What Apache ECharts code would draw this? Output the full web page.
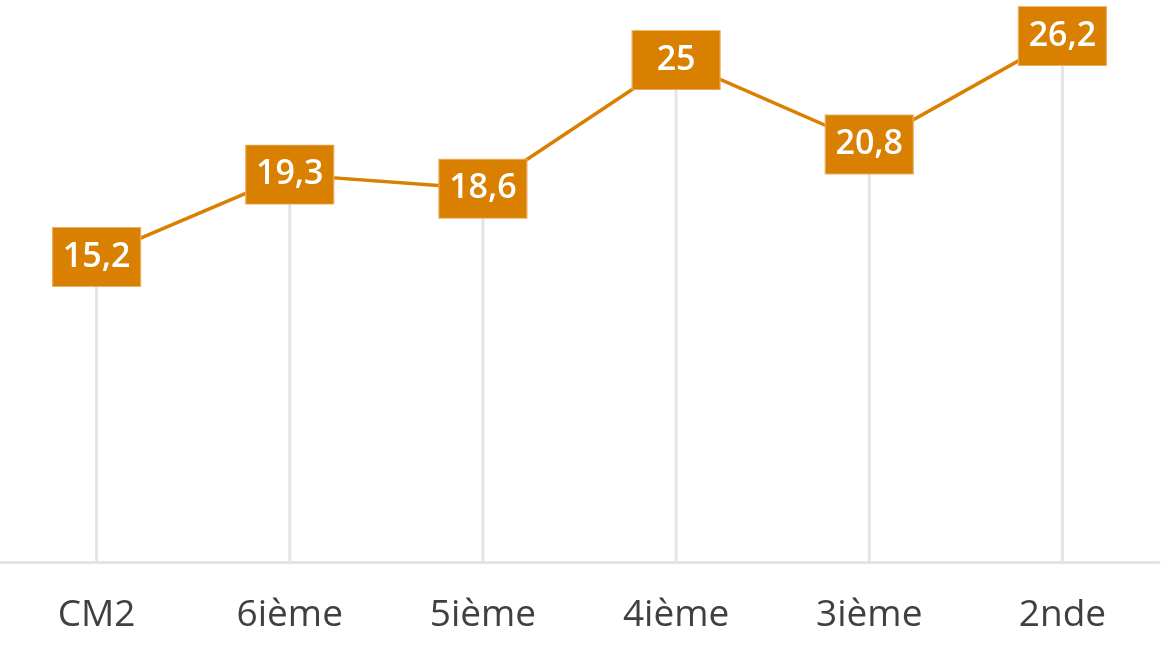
<!DOCTYPE html>
<html>
<head>
<meta charset="utf-8">
<script src="https://cdn.jsdelivr.net/npm/echarts@6/dist/echarts.min.js"></script>
<style>
  html, body { margin: 0; padding: 0; background: #ffffff; }
  #chart { width: 1170px; height: 660px; }
</style>
</head>
<body>
<div id="chart"></div>
<script>
const categories = ['CM2', '6ième', '5ième', '4ième', '3ième', '2nde']
const values = [15.2, 19.3, 18.6, 25, 20.8, 26.2]

const ORANGE = '#d98000'
const FONT = '"Open Sans", sans-serif'

const chart = echarts.init(document.getElementById('chart'), null, { renderer: 'canvas' })

chart.setOption({
    backgroundColor: '#ffffff',
    animation: false,
    grid: { left: 0, right: 11, top: 0, bottom: 98, containLabel: false },
    xAxis: {
        type: 'category',
        data: categories,
        boundaryGap: true,
        axisLine: { show: true, lineStyle: { color: '#e4e4e4', width: 3 } },
        axisTick: { show: false },
        axisLabel: {
            color: '#404040',
            fontFamily: FONT,
            fontSize: 37,
            margin: 35
        }
    },
    yAxis: {
        type: 'value',
        min: 0,
        max: 28,
        show: false,
        splitLine: { show: false }
    },
    series: [
        {
            // drop lines from each point to the axis
            name: 'drop',
            type: 'bar',
            data: values,
            barWidth: 3,
            itemStyle: { color: '#e4e4e4' },
            silent: true,
            z: 1
        },
        {
            name: 'Valeurs',
            type: 'line',
            data: values,
            symbol: 'rect',
            symbolSize: [88, 59],
            showSymbol: true,
            lineStyle: { width: 3.5, color: ORANGE },
            itemStyle: { color: ORANGE, borderColor: '#e9ad62', borderWidth: 1 },
            z: 3,
            label: {
                show: true,
                position: 'inside',
                formatter: p => String(p.value).replace('.', ','),
                color: '#ffffff',
                fontFamily: FONT,
                fontSize: 34,
                fontWeight: 600
            }
        }
    ]
})
</script>
</body>
</html>
